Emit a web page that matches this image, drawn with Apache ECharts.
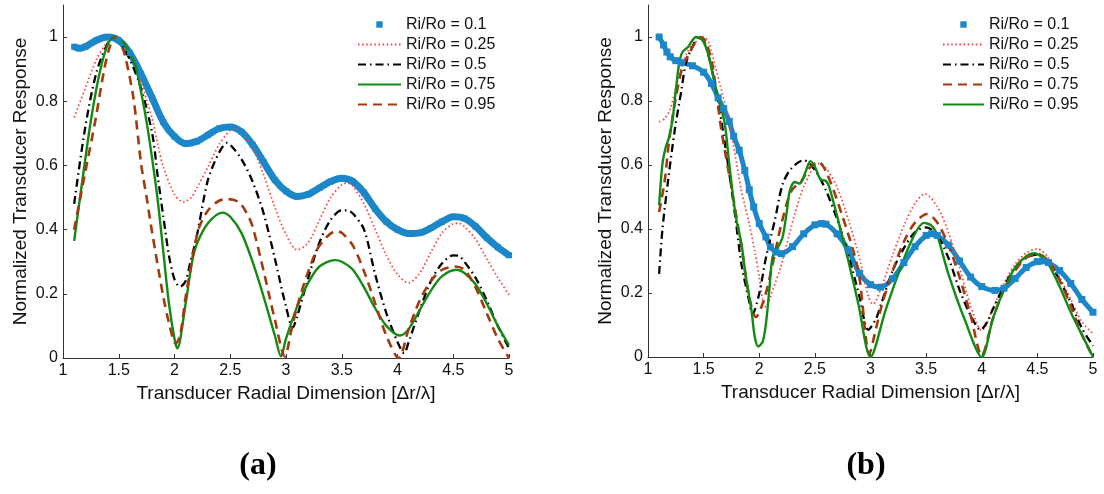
<!DOCTYPE html>
<html>
<head>
<meta charset="utf-8">
<script src="https://cdn.jsdelivr.net/npm/echarts@6/dist/echarts.min.js"></script>
<style>
html, body { margin: 0; padding: 0; background: #fff; }
#chart { width: 1104px; height: 494px; }
</style>
</head>
<body>
<div id="chart"></div>
<script>
// tick labels / names
var xTicks = [1, 1.5, 2, 2.5, 3, 3.5, 4, 4.5, 5];
var yTicks = [0, 0.2, 0.4, 0.6, 0.8, 1];
var ratioNames = ['Ri/Ro = 0.1', 'Ri/Ro = 0.25', 'Ri/Ro = 0.5', 'Ri/Ro = 0.75', 'Ri/Ro = 0.95'];
var panelLabels = ['(a)', '(b)'];

// (a) values, [dr/lambda, response]
var a_r010 = [[1.1,0.97],[1.15,0.965],[1.2,0.97],[1.3,0.99],[1.4,1.0],[1.5,0.99],[1.6,0.95],[1.7,0.885],[1.8,0.81],[1.9,0.735],[2.0,0.69],[2.1,0.668],[2.2,0.675],[2.3,0.695],[2.4,0.715],[2.5,0.72],[2.6,0.705],[2.7,0.665],[2.8,0.61],[2.9,0.555],[3.0,0.52],[3.1,0.503],[3.2,0.51],[3.3,0.53],[3.4,0.55],[3.5,0.56],[3.6,0.55],[3.7,0.515],[3.8,0.465],[3.9,0.425],[4.0,0.4],[4.1,0.388],[4.2,0.39],[4.3,0.405],[4.4,0.425],[4.5,0.44],[4.6,0.435],[4.7,0.41],[4.8,0.375],[4.9,0.345],[5.0,0.32]];
var a_r025 = [[1.1,0.75],[1.2,0.84],[1.3,0.93],[1.4,0.985],[1.47,1.0],[1.55,0.98],[1.6,0.95],[1.7,0.86],[1.8,0.745],[1.85,0.665],[1.9,0.595],[2.0,0.51],[2.08,0.486],[2.15,0.5],[2.2,0.53],[2.3,0.595],[2.4,0.665],[2.5,0.71],[2.55,0.715],[2.6,0.705],[2.7,0.655],[2.8,0.57],[2.9,0.47],[3.0,0.385],[3.1,0.337],[3.2,0.36],[3.3,0.43],[3.4,0.5],[3.5,0.54],[3.55,0.545],[3.6,0.535],[3.7,0.48],[3.8,0.4],[3.9,0.32],[4.0,0.26],[4.1,0.234],[4.2,0.265],[4.3,0.33],[4.4,0.39],[4.5,0.418],[4.55,0.42],[4.6,0.41],[4.7,0.37],[4.8,0.31],[4.9,0.25],[5.0,0.197]];
var a_r050 = [[1.1,0.48],[1.2,0.72],[1.3,0.89],[1.4,0.98],[1.46,1.0],[1.5,0.99],[1.6,0.93],[1.7,0.84],[1.8,0.7],[1.85,0.565],[1.9,0.44],[1.95,0.32],[2.0,0.245],[2.05,0.222],[2.1,0.24],[2.14,0.295],[2.2,0.38],[2.3,0.555],[2.4,0.64],[2.47,0.67],[2.5,0.665],[2.6,0.62],[2.7,0.55],[2.8,0.45],[2.9,0.31],[3.0,0.16],[3.06,0.095],[3.1,0.13],[3.2,0.25],[3.3,0.36],[3.4,0.43],[3.5,0.46],[3.55,0.46],[3.6,0.45],[3.7,0.4],[3.8,0.26],[3.9,0.14],[4.0,0.05],[4.06,0.015],[4.1,0.05],[4.2,0.15],[4.3,0.24],[4.4,0.295],[4.5,0.32],[4.55,0.318],[4.6,0.3],[4.7,0.25],[4.8,0.18],[4.9,0.1],[5.0,0.03]];
var a_r075 = [[1.1,0.365],[1.2,0.62],[1.25,0.74],[1.3,0.84],[1.35,0.92],[1.4,0.975],[1.45,1.0],[1.5,0.995],[1.55,0.98],[1.6,0.95],[1.65,0.91],[1.7,0.83],[1.75,0.735],[1.8,0.62],[1.85,0.49],[1.9,0.33],[1.95,0.17],[2.0,0.06],[2.025,0.03],[2.1,0.17],[2.155,0.295],[2.2,0.355],[2.3,0.42],[2.43,0.453],[2.5,0.44],[2.6,0.39],[2.7,0.3],[2.8,0.19],[2.9,0.07],[2.955,0.005],[3.0,0.06],[3.1,0.16],[3.2,0.235],[3.3,0.285],[3.44,0.305],[3.5,0.3],[3.6,0.275],[3.7,0.22],[3.8,0.155],[3.9,0.1],[4.02,0.07],[4.1,0.09],[4.2,0.15],[4.3,0.21],[4.4,0.255],[4.53,0.275],[4.6,0.265],[4.7,0.23],[4.8,0.17],[4.9,0.1],[5.0,0.04]];
var a_r095 = [[1.1,0.4],[1.2,0.58],[1.29,0.74],[1.37,0.9],[1.42,0.97],[1.47,1.0],[1.5,0.99],[1.55,0.95],[1.63,0.814],[1.7,0.606],[1.75,0.5],[1.8,0.39],[1.9,0.19],[1.95,0.11],[2.01,0.045],[2.05,0.07],[2.1,0.19],[2.15,0.29],[2.215,0.4],[2.3,0.46],[2.4,0.49],[2.48,0.495],[2.58,0.485],[2.65,0.45],[2.7,0.41],[2.8,0.27],[2.9,0.12],[2.99,0.005],[3.05,0.09],[3.1,0.16],[3.2,0.27],[3.3,0.35],[3.45,0.395],[3.5,0.39],[3.6,0.35],[3.7,0.27],[3.8,0.17],[3.9,0.07],[4.01,0.0],[4.1,0.09],[4.2,0.18],[4.3,0.24],[4.4,0.275],[4.52,0.285],[4.6,0.275],[4.7,0.22],[4.8,0.14],[4.9,0.06],[5.0,0.0]];

// (b) values
var b_r010 = [[1.1,1.0],[1.14,0.975],[1.17,0.953],[1.2,0.938],[1.25,0.926],[1.3,0.92],[1.4,0.91],[1.5,0.89],[1.57,0.855],[1.63,0.81],[1.68,0.776],[1.73,0.736],[1.77,0.69],[1.82,0.646],[1.87,0.583],[1.91,0.523],[1.95,0.469],[2.0,0.417],[2.06,0.375],[2.1,0.344],[2.15,0.328],[2.2,0.323],[2.3,0.345],[2.4,0.385],[2.5,0.413],[2.56,0.417],[2.6,0.415],[2.7,0.385],[2.8,0.335],[2.9,0.262],[3.0,0.226],[3.09,0.218],[3.2,0.245],[3.3,0.295],[3.4,0.345],[3.5,0.38],[3.55,0.385],[3.6,0.38],[3.7,0.35],[3.8,0.3],[3.9,0.25],[4.0,0.22],[4.12,0.208],[4.2,0.215],[4.3,0.245],[4.4,0.28],[4.5,0.298],[4.55,0.3],[4.6,0.295],[4.7,0.27],[4.8,0.23],[4.9,0.18],[5.0,0.14]];
var b_r025 = [[1.1,0.735],[1.15,0.745],[1.2,0.775],[1.25,0.84],[1.3,0.905],[1.35,0.95],[1.4,0.975],[1.5,1.0],[1.55,0.98],[1.61,0.9],[1.7,0.78],[1.76,0.677],[1.84,0.52],[1.91,0.417],[1.96,0.33],[2.0,0.25],[2.03,0.18],[2.06,0.156],[2.11,0.198],[2.2,0.29],[2.32,0.448],[2.41,0.54],[2.53,0.605],[2.6,0.59],[2.7,0.53],[2.8,0.43],[2.9,0.31],[2.98,0.19],[3.02,0.165],[3.1,0.22],[3.2,0.32],[3.3,0.41],[3.4,0.48],[3.49,0.51],[3.6,0.47],[3.7,0.39],[3.8,0.28],[3.9,0.16],[4.0,0.083],[4.1,0.15],[4.2,0.23],[4.3,0.29],[4.4,0.325],[4.5,0.338],[4.6,0.31],[4.7,0.25],[4.8,0.18],[4.9,0.11],[5.0,0.073]];
var b_r050 = [[1.1,0.26],[1.13,0.4],[1.18,0.55],[1.24,0.708],[1.3,0.833],[1.34,0.917],[1.4,0.97],[1.46,1.0],[1.5,0.99],[1.57,0.906],[1.64,0.78],[1.72,0.6],[1.78,0.45],[1.84,0.29],[1.9,0.19],[1.94,0.135],[2.0,0.198],[2.06,0.31],[2.14,0.427],[2.21,0.54],[2.29,0.59],[2.4,0.615],[2.5,0.585],[2.6,0.52],[2.7,0.43],[2.8,0.32],[2.9,0.19],[2.98,0.085],[3.05,0.12],[3.1,0.17],[3.2,0.27],[3.3,0.34],[3.4,0.39],[3.5,0.405],[3.6,0.38],[3.7,0.31],[3.8,0.21],[3.9,0.13],[3.99,0.085],[4.05,0.11],[4.1,0.15],[4.2,0.22],[4.3,0.28],[4.4,0.31],[4.5,0.32],[4.6,0.3],[4.7,0.24],[4.8,0.17],[4.9,0.09],[5.0,0.035]];
var b_r075 = [[1.1,0.453],[1.15,0.55],[1.19,0.677],[1.25,0.81],[1.31,0.906],[1.37,0.948],[1.42,0.98],[1.47,1.0],[1.52,0.985],[1.58,0.91],[1.66,0.708],[1.75,0.53],[1.84,0.344],[1.91,0.1875],[1.97,0.125],[2.05,0.1875],[2.12,0.29],[2.2,0.417],[2.29,0.52],[2.38,0.55],[2.45,0.59],[2.53,0.61],[2.6,0.58],[2.74,0.448],[2.89,0.27],[2.99,0.01],[3.05,0.09],[3.1,0.16],[3.2,0.27],[3.3,0.36],[3.4,0.42],[3.51,0.447],[3.6,0.42],[3.7,0.35],[3.8,0.25],[3.9,0.13],[4.0,0.005],[4.1,0.12],[4.2,0.21],[4.3,0.27],[4.4,0.31],[4.5,0.322],[4.6,0.3],[4.7,0.24],[4.8,0.16],[4.9,0.07],[5.0,0.0]];
var b_r095 = [[1.1,0.474],[1.13,0.604],[1.16,0.656],[1.19,0.6875],[1.22,0.74],[1.25,0.833],[1.28,0.917],[1.31,0.953],[1.36,0.969],[1.4,0.99],[1.43,1.0],[1.49,0.99],[1.54,0.948],[1.58,0.885],[1.63,0.8125],[1.69,0.729],[1.73,0.604],[1.79,0.4375],[1.84,0.354],[1.88,0.25],[1.93,0.146],[1.96,0.0625],[1.99,0.033],[2.03,0.047],[2.06,0.104],[2.09,0.208],[2.12,0.3125],[2.17,0.344],[2.21,0.375],[2.245,0.448],[2.275,0.52],[2.32,0.547],[2.365,0.542],[2.41,0.573],[2.46,0.612],[2.5,0.594],[2.55,0.555],[2.6,0.55],[2.63,0.53],[2.71,0.427],[2.8,0.302],[2.89,0.167],[3.0,0.0],[3.135,0.146],[3.25,0.26],[3.37,0.364],[3.48,0.419],[3.55,0.41],[3.6,0.38],[3.7,0.26],[3.85,0.114],[4.0,0.0],[4.1,0.12],[4.2,0.21],[4.3,0.28],[4.4,0.315],[4.47,0.324],[4.55,0.31],[4.6,0.29],[4.7,0.22],[4.8,0.14],[4.9,0.07],[5.0,0.0]];

var FONT = 'Liberation Sans, Arial, sans-serif';

// line looks
var BLUE_A = { color: '#1b87c9', width: 7, symbol: 'rect', symbolSize: 6 };
var BLUE_B = { color: '#1b87c9', width: 5, symbol: 'rect', symbolSize: 7 };
var RED = { color: '#ff4040', width: 1.8, type: [1.5, 2.6] };
var BLACK = { color: '#000000', width: 2.3, type: [8, 4, 1.5, 4] };
var GREEN = { color: '#138a13', width: 2.4 };
var BROWN = { color: '#a33a0f', width: 2.6, type: [9, 6] };

var stylesA = [BLUE_A, RED, BLACK, GREEN, BROWN];
var stylesB = [BLUE_B, RED, BLACK, BROWN, GREEN];

function makeSeries(tag, gi, sets, styles) {
	return sets.map(function (d, i) {
		var st = styles[i];
		return {
			name: tag + ratioNames[i],
			type: 'line',
			xAxisIndex: gi,
			yAxisIndex: gi,
			data: d,
			smooth: 0.3,
			symbol: st.symbol || 'none',
			symbolSize: st.symbolSize || 0,
			showSymbol: !!st.symbol,
			lineStyle: { color: st.color, width: st.width, type: st.type || 'solid' },
			itemStyle: { color: st.color },
			emphasis: { disabled: true }
		};
	});
}

function makeLegend(tag, left, styles, iconW) {
	return {
		left: left,
		top: 16,
		orient: 'vertical',
		padding: 0,
		itemGap: 3,
		itemWidth: iconW,
		itemHeight: 8,
		selectedMode: false,
		textStyle: { fontFamily: FONT, fontSize: 16, color: '#111', lineHeight: 17 },
		formatter: function (n) { return n.slice(tag.length); },
		data: ratioNames.map(function (n, i) {
			var item = { name: tag + n };
			if (styles[i].symbol) item.lineStyle = { opacity: 0 };
			else item.itemStyle = { opacity: 0 };
			return item;
		})
	};
}

function xAx(gi) {
	return {
		type: 'value', gridIndex: gi, min: 1, max: 5, interval: 0.5,
		name: 'Transducer Radial Dimension [Δr/λ]',
		nameLocation: 'middle', nameGap: 23,
		nameTextStyle: { fontFamily: FONT, fontSize: 19, color: '#111' },
		axisLine: { show: true, onZero: false, lineStyle: { color: '#333', width: 1 } },
		axisTick: { show: true, inside: true, length: 4, lineStyle: { color: '#333' } },
		axisLabel: { fontFamily: FONT, fontSize: 16, color: '#111', margin: 5,
			customValues: xTicks },
		splitLine: { show: false }
	};
}

function yAx(gi) {
	return {
		type: 'value', gridIndex: gi, min: 0, max: 1.1, interval: 0.2,
		name: 'Normalized Transducer Response',
		nameLocation: 'middle', nameGap: 33,
		nameTextStyle: { fontFamily: FONT, fontSize: 19, color: '#111' },
		axisLine: { show: true, onZero: false, lineStyle: { color: '#333', width: 1 } },
		axisTick: { show: true, inside: true, length: 4, lineStyle: { color: '#333' },
			customValues: yTicks },
		axisLabel: { fontFamily: FONT, fontSize: 16, color: '#111', margin: 5,
			customValues: yTicks },
		splitLine: { show: false }
	};
}

var chart = echarts.init(document.getElementById('chart'));
var option = {
	animation: false,
	backgroundColor: '#fff',
	grid: [
		{ left: 63, top: 5, width: 446, height: 353 },
		{ left: 648, top: 5, width: 445, height: 352 }
	],
	xAxis: [xAx(0), xAx(1)],
	yAxis: [yAx(0), yAx(1)],
	legend: [
		makeLegend('a|', 357, stylesA, 43),
		makeLegend('b|', 942, stylesB, 41)
	],
	series: makeSeries('a|', 0, [a_r010, a_r025, a_r050, a_r075, a_r095], stylesA)
		.concat(makeSeries('b|', 1, [b_r010, b_r025, b_r050, b_r075, b_r095], stylesB)),
	graphic: [
		{ type: 'text', x: 258, y: 466, style: { text: panelLabels[0], textAlign: 'center', textVerticalAlign: 'middle',
			font: 'bold 32px "Liberation Serif", serif', fill: '#000' } },
		{ type: 'text', x: 866, y: 466, style: { text: panelLabels[1], textAlign: 'center', textVerticalAlign: 'middle',
			font: 'bold 32px "Liberation Serif", serif', fill: '#000' } }
	]
};
chart.setOption(option);
</script>
</body>
</html>
